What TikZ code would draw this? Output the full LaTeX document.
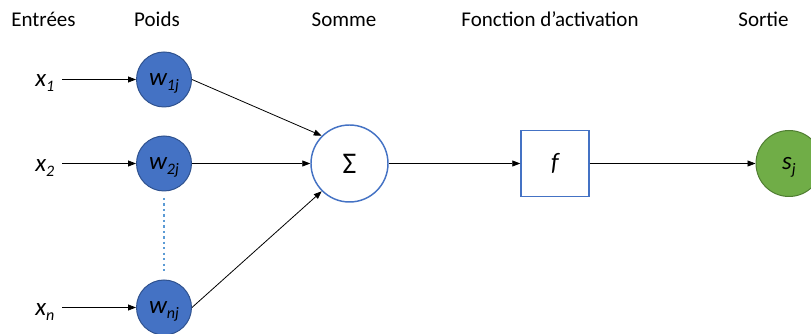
\documentclass[tikz,border=0pt]{standalone}
\usepackage{fontspec}
\setmainfont{Carlito}
\usetikzlibrary{arrows.meta}
\definecolor{wblue}{HTML}{4472C4}
\definecolor{wblueb}{HTML}{2F528F}
\definecolor{sgreen}{HTML}{70AD47}
\definecolor{sgreenb}{HTML}{507E32}
\definecolor{dotblue}{HTML}{5B9BD5}
\newcommand{\vlab}[2]{{\fontsize{18.75pt}{20pt}\selectfont\itshape #1}\raisebox{-3.75pt}[0pt][0pt]{\fontsize{12pt}{13pt}\selectfont\itshape #2}}
\begin{document}
\begin{tikzpicture}[x=0.75pt,y=-0.75pt,
  head/.style={anchor=base, inner sep=0pt, font=\fontsize{15.75pt}{18pt}\selectfont},
  inlab/.style={anchor=base west, inner sep=0pt},
  weight/.style={circle, fill=wblue, draw=wblueb, line width=0.75pt, minimum size=41.25pt, inner sep=0pt},
  sumc/.style={circle, fill=white, draw=wblue, line width=1.1pt, minimum size=57.75pt, inner sep=0pt},
  actbox/.style={rectangle, fill=white, draw=wblue, line width=1.1pt, minimum width=51pt, minimum height=49.5pt, inner sep=0pt},
  outc/.style={circle, fill=sgreen, draw=sgreenb, line width=0.75pt, minimum size=49.5pt, inner sep=0pt},
  arr/.style={-{Triangle[length=6pt,width=4.5pt]}, line width=0.6pt, draw=black},
  dotline/.style={draw=dotblue, line width=1.7pt, dash pattern=on 1.7pt off 2.4pt}]
\useasboundingbox (0,0) rectangle (811,334);
\clip (0,0) rectangle (811,334);
% headers
\node[head] (hE) at (43.5,27) {Entrées};
\node[head] (hP) at (157,27) {Poids};
\node[head] (hS) at (344,27) {Somme};
\node[head] (hF) at (550,27) {Fonction d’activation};
\node[head] (hO) at (763.5,27) {Sortie};
% input labels
\node[inlab] (x1) at (35,87) {\vlab{x}{1}};
\node[inlab] (x2) at (35,171.5) {\vlab{x}{2}};
\node[inlab] (xn) at (35,316) {\vlab{x}{n}};
\coordinate (i1) at (62,79.5);
\coordinate (i2) at (62,163.5);
\coordinate (in) at (62,307.5);
% weights
\node[weight] (w1) at (164,79.5) {\vlab{w}{1j}};
\node[weight] (w2) at (164,163.5) {\vlab{w}{2j}};
\node[weight] (wn) at (164,307.5) {\vlab{w}{nj}};
% sum, activation, output
\node[sumc] (sum) at (349.5,163.5) {\raisebox{-3pt}{\fontsize{22.5pt}{24pt}\selectfont Σ}};
\node[actbox] (f) at (555,163.5) {\vlab{f}{}};
\node[outc] (s) at (789,163.5) {\vlab{s}{j}};
% dotted line
\coordinate (d1) at (164,198);
\coordinate (d2) at (164,273);
\draw[dotline] (d1) -- (d2);
% connectors
\draw[arr] (i1) -- (w1);
\draw[arr] (i2) -- (w2);
\draw[arr] (in) -- (wn);
\draw[arr] (w1.east) -- (sum.135);
\draw[arr] (w2.east) -- (sum.west);
\draw[arr] (wn.east) -- (sum.225);
\draw[arr] (sum.east) -- (f.west);
\draw[arr] (f.east) -- (s.west);
\end{tikzpicture}
\end{document}
